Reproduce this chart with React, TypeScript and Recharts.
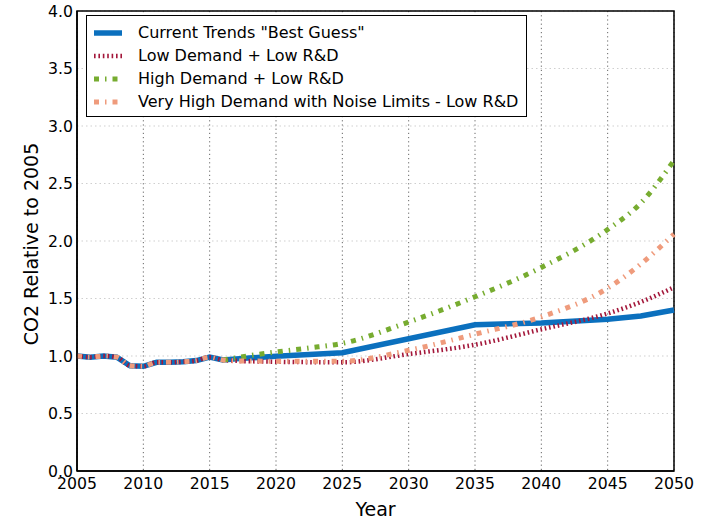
import { LineChart, Line, XAxis, YAxis, CartesianGrid, ReferenceArea } from "recharts";

// shared historical record, 2005-2016
const histYears = [2005, 2006, 2007, 2008, 2009, 2010, 2011, 2012, 2013, 2014, 2015, 2016];
const histCO2 = [1.0, 0.99, 1.0, 0.99, 0.915, 0.91, 0.945, 0.945, 0.95, 0.96, 0.99, 0.965];

// scenario projections
const bestYears = [2017, 2020, 2025, 2035, 2040, 2045, 2047.5, 2050];
const bestCO2 = [0.975, 0.997, 1.028, 1.272, 1.287, 1.32, 1.348, 1.4];

const lowYears = [2017, 2020, 2025, 2030, 2035, 2040, 2045, 2047.5, 2050];
const lowCO2 = [0.958, 0.95, 0.945, 1.017, 1.098, 1.232, 1.37, 1.47, 1.597];

const highYears = [2017.5, 2020, 2022.5, 2025, 2030, 2035, 2040, 2045, 2047.5, 2050];
const highCO2 = [0.994, 1.035, 1.07, 1.11, 1.295, 1.515, 1.77, 2.1, 2.33, 2.7];

const vhYears = [2017, 2020, 2025, 2030, 2035, 2040, 2045, 2047.5, 2050];
const vhCO2 = [0.958, 0.955, 0.955, 1.05, 1.19, 1.34, 1.59, 1.8, 2.06];

const xTicks = [2005, 2010, 2015, 2020, 2025, 2030, 2035, 2040, 2045, 2050];
const yTicks = [0, 0.5, 1, 1.5, 2, 2.5, 3, 3.5, 4];

const FONT = "'DejaVu Sans', Verdana, sans-serif";

const toPoints = (years: number[], values: number[]) =>
  years.map((year, i) => ({ year, v: values[i] }));

const history = toPoints(histYears, histCO2);

const series = [
  {
    key: "best",
    name: 'Current Trends "Best Guess"',
    color: "#0b70be",
    width: 5.5,
    dash: undefined as string | undefined,
    curve: "linear",
    data: [...history, ...toPoints(bestYears, bestCO2)],
  },
  {
    key: "low",
    name: "Low Demand + Low R&D",
    color: "#a3173a",
    width: 4.5,
    dash: "1.6 2.8",
    curve: "monotone",
    data: [...history, ...toPoints(lowYears, lowCO2)],
  },
  {
    key: "high",
    name: "High Demand + Low R&D",
    color: "#77ac30",
    width: 5,
    dash: "5 6 1.5 6",
    curve: "monotone",
    data: [history[history.length - 1], ...toPoints(highYears, highCO2)],
  },
  {
    key: "vhigh",
    name: "Very High Demand with Noise Limits - Low R&D",
    color: "#ef9b7c",
    width: 5,
    dash: "5 6 1.5 6",
    curve: "monotone",
    data: [...history, ...toPoints(vhYears, vhCO2)],
  },
];

const YLabel = ({ viewBox }: any) => {
  const cx = viewBox.x + 38;
  const cy = viewBox.y + viewBox.height / 2 + 3;
  return (
    <text x={cx} y={cy} transform={`rotate(-90 ${cx} ${cy})`} textAnchor="middle" fontSize={19} fontFamily={FONT} fill="#000">
      CO2 Relative to 2005
    </text>
  );
};

const XLabel = ({ viewBox }: any) => (
  <text x={viewBox.x + viewBox.width / 2} y={viewBox.y + 45} textAnchor="middle" fontSize={19} fontFamily={FONT} fill="#000">
    Year
  </text>
);

function ChartLegend() {
  return (
    <div
      style={{
        position: "absolute",
        left: 86,
        top: 15,
        width: 441,
        boxSizing: "border-box",
        border: "1px solid #000",
        background: "#fff",
        padding: "5px 0 3px 7px",
        fontFamily: FONT,
        fontSize: 16,
        color: "#000",
      }}
    >
      {series.map((s) => (
        <div key={s.key} style={{ display: "flex", alignItems: "center", height: 23.1 }}>
          <svg width={28} height={10} style={{ flex: "none" }}>
            <line x1={0} y1={5} x2={28} y2={5} stroke={s.color} strokeWidth={s.width} strokeDasharray={s.dash} />
          </svg>
          <span style={{ marginLeft: 16, whiteSpace: "nowrap" }}>{s.name}</span>
        </div>
      ))}
    </div>
  );
}

export default function App() {
  const tick = { fill: "#000", fontSize: 15.7, fontFamily: FONT };
  return (
    <div style={{ position: "absolute", left: 0, top: 0, width: 702, height: 520, background: "#fff" }}>
      <LineChart width={702} height={520} margin={{ top: 11, right: 28, bottom: 0, left: 0 }}>
        <CartesianGrid vertical={false} stroke="#cfcfcf" strokeDasharray="1.5 3" />
        <CartesianGrid horizontal={false} stroke="#666" strokeDasharray="1.2 3" />
        <XAxis
          dataKey="year"
          type="number"
          domain={[2005, 2050]}
          ticks={xTicks}
          allowDuplicatedCategory={false}
          height={49}
          tick={tick}
          tickLine={false}
          tickSize={0}
          tickMargin={7}
          axisLine={{ stroke: "#000", strokeWidth: 1.5 }}
          label={<XLabel />}
        />
        <YAxis
          type="number"
          domain={[0, 4]}
          ticks={yTicks}
          width={77}
          tick={tick}
          tickLine={false}
          tickSize={0}
          tickMargin={4}
          tickFormatter={(v: number) => v.toFixed(1)}
          axisLine={{ stroke: "#000", strokeWidth: 1.5 }}
          label={<YLabel />}
        />
        {series.map((s) => (
          <Line
            key={s.key}
            data={s.data}
            dataKey="v"
            name={s.name}
            type={s.curve as any}
            stroke={s.color}
            strokeWidth={s.width}
            strokeDasharray={s.dash}
            dot={false}
            activeDot={false}
            isAnimationActive={false}
          />
        ))}
        <ReferenceArea x1={2005} x2={2050} y1={0} y2={4} fill="none" fillOpacity={0} stroke="#000" strokeWidth={1.5} />
      </LineChart>
      <ChartLegend />
    </div>
  );
}
